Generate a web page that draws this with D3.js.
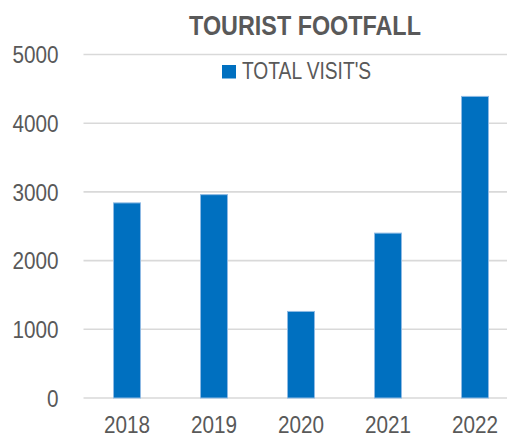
<!DOCTYPE html>
<html>
<head>
<meta charset="utf-8">
<script src="https://cdn.jsdelivr.net/npm/d3@7"></script>
<style>
  html, body { margin: 0; padding: 0; background: #fff; }
  svg { display: block; }
  text { font-family: "Liberation Sans", Arial, sans-serif; fill: #595959; }
</style>
</head>
<body>
<svg id="chart" width="507" height="437"></svg>
<script>
// Tourist footfall by year
const years = ["2018", "2019", "2020", "2021", "2022"];
const totalVisits = [2840, 2960, 1260, 2400, 4390];
const yTicks = [0, 1000, 2000, 3000, 4000, 5000];
const seriesName = "TOTAL VISIT'S";
const chartTitle = "TOURIST FOOTFALL";

const W = 507, H = 437;
const svg = d3.select("#chart");

const plot = { left: 83.5, right: 518.5, top: 54.5, bottom: 398 };

const x = d3.scaleBand()
  .domain(years)
  .range([plot.left, plot.right])
  .paddingInner(0.69)
  .paddingOuter(0.345);

const y = d3.scaleLinear()
  .domain([0, 5000])
  .range([plot.bottom, plot.top]);

// condensed look: squeeze text horizontally around its anchor point
function condense(sel, sx) {
  sel.each(function () {
    const t = d3.select(this);
    const ax = +t.attr("x") || 0;
    t.attr("transform", `translate(${ax},0) scale(${sx},1) translate(${-ax},0)`);
  });
}

// horizontal gridlines
svg.append("g")
  .selectAll("line")
  .data(yTicks)
  .join("line")
  .attr("x1", plot.left)
  .attr("x2", W)
  .attr("y1", d => y(d))
  .attr("y2", d => y(d))
  .attr("stroke", "#d9d9d9")
  .attr("stroke-width", 1.6);

// y-axis labels
const yAxis = d3.axisLeft(y).tickValues(yTicks).tickFormat(d3.format("d")).tickSize(0).tickPadding(0);
const yg = svg.append("g")
  .attr("transform", `translate(${plot.left - 25},0)`)
  .call(yAxis);
yg.select(".domain").remove();
yg.selectAll("text")
  .attr("x", 0)
  .attr("font-size", 23)
  .attr("dy", "0.355em")
  .style("font-family", "'Liberation Sans', Arial, sans-serif")
  .attr("fill", "#595959")
  .call(condense, 0.9);

// bars
svg.append("g")
  .selectAll("rect")
  .data(years.map((yr, i) => ({ yr, v: totalVisits[i] })))
  .join("rect")
  .attr("x", d => x(d.yr))
  .attr("width", x.bandwidth())
  .attr("y", d => y(d.v))
  .attr("height", d => y(0) - y(d.v))
  .attr("fill", "#0070C0")
  .attr("stroke", "#8fbbe4")
  .attr("stroke-width", 1);

// x-axis labels
const xAxis = d3.axisBottom(x).tickSize(0).tickPadding(0);
const xg = svg.append("g")
  .attr("transform", `translate(0,${plot.bottom})`)
  .call(xAxis);
xg.select(".domain").remove();
xg.selectAll("text")
  .attr("x", 0)
  .attr("font-size", 23)
  .attr("y", 35.5)
  .attr("dy", 0)
  .style("font-family", "'Liberation Sans', Arial, sans-serif")
  .attr("fill", "#595959")
  .call(condense, 0.9);

// title
svg.append("text")
  .attr("x", 305)
  .attr("y", 35.5)
  .attr("text-anchor", "middle")
  .attr("font-size", 28.5)
  .attr("font-weight", "bold")
  .text(chartTitle)
  .call(condense, 0.82);

// legend
const legend = svg.append("g").attr("transform", "translate(222,65)");
legend.append("rect")
  .attr("width", 14)
  .attr("height", 13.5)
  .attr("fill", "#0070C0");
legend.append("text")
  .attr("x", 20)
  .attr("y", 14)
  .attr("font-size", 24)
  .text(seriesName)
  .call(condense, 0.8);
</script>
</body>
</html>
